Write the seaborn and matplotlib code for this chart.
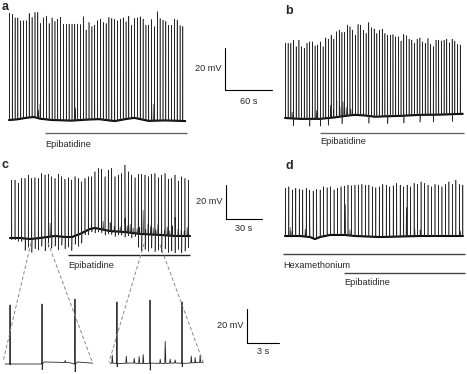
import numpy as np
import matplotlib.pyplot as plt
import seaborn as sns
from matplotlib.patches import ConnectionPatch

# time in s, potential in mV (0 = resting level of each panel)

# ---- panel a ----
a_base_t = [0, 10, 25, 32, 40, 55, 80, 100, 115, 135, 150, 160, 168, 178, 200, 225]
a_base_v = [0, 0.3, 1.2, 1.4, 0.6, 0.0, -0.3, 0.2, 0.4, -0.5, 0.5, 1.0, 0.4, -0.4, -0.2, -0.5]
a_spk_t = [0.5, 4.2, 7.8, 11.3, 15.0, 18.6, 22.3, 25.8, 29.5, 33.2,
           36.8, 40.4, 44.1, 47.8, 51.3, 55.0, 58.7, 62.2, 65.9, 69.6,
           73.2, 76.8, 80.5, 84.0, 87.7, 91.4, 95.0, 98.5, 102.2, 105.9,
           109.5, 113.2, 116.7, 120.4, 124.1, 127.6, 131.3, 135.0, 138.6, 142.2,
           145.9, 149.5, 153.0, 156.7, 160.4, 164.0, 167.6, 171.3, 174.9, 178.4,
           182.1, 185.8, 189.4, 193.0, 196.7, 200.3, 203.9, 207.6, 211.2, 214.8,
           218.5, 222.0]
a_spk_v = [50.8, 50.3, 48.7, 48.7, 47.3, 47.3, 47.3, 50.8, 48.9, 51.3,
           51.3, 46.0, 48.7, 49.5, 46.0, 48.7, 47.0, 48.1, 49.0, 45.7,
           45.7, 45.7, 45.7, 45.7, 45.7, 45.5, 49.2, 42.9, 46.5, 44.5,
           45.2, 47.3, 48.1, 46.5, 46.0, 48.9, 48.4, 48.1, 47.3, 48.1,
           48.7, 46.8, 49.5, 45.2, 48.4, 48.7, 49.2, 48.1, 45.2, 45.2,
           47.9, 44.5, 51.6, 48.4, 47.6, 47.0, 45.2, 45.2, 48.1, 47.6,
           45.0, 44.6]
a_spk_u = [0] * 62
a_evt_t = [37.5, 39.6, 84.6, 184.0]
a_evt_v = [4, 7, 6, 8]
a_drug = (46, 227)

# ---- panel b ----
b_base_t = [0, 19, 45, 64, 77, 89, 102, 115, 128, 147, 172, 198, 227]
b_base_v = [0, -0.4, -0.4, 0.3, 1.0, 1.5, 1.2, 0.6, 0.8, 1.0, 1.5, 1.6, 2.0]
b_spk_t = [0.6, 4.0, 7.5, 10.9, 14.3, 17.8, 21.2, 24.6, 28.1, 31.5,
           34.9, 38.4, 41.8, 45.2, 48.7, 52.1, 55.5, 59.0, 62.4, 65.8,
           69.3, 72.7, 76.1, 79.6, 83.0, 86.4, 89.9, 93.3, 96.7, 100.2,
           103.6, 107.0, 110.5, 113.9, 117.3, 120.8, 124.2, 127.6, 131.1, 134.5,
           137.9, 141.4, 144.8, 148.2, 151.7, 155.1, 158.5, 162.0, 165.4, 168.8,
           172.3, 175.7, 179.1, 182.6, 186.0, 189.4, 192.9, 196.3, 199.7, 203.2,
           206.6, 210.0, 213.5, 216.9, 220.3, 223.8]
b_spk_v = [35.6, 35.6, 35.6, 37.1, 34.0, 37.1, 34.0, 33.2, 35.6, 36.3,
           36.3, 34.4, 34.8, 36.3, 34.0, 38.2, 37.6, 39.5, 37.6, 41.1,
           41.9, 40.8, 40.8, 44.3, 43.5, 41.9, 39.5, 44.6, 44.3, 41.9,
           40.3, 45.5, 43.0, 42.4, 40.3, 41.9, 42.4, 40.3, 39.5, 39.5,
           39.8, 38.7, 38.7, 36.7, 39.8, 39.2, 37.6, 37.1, 35.6, 37.6,
           38.2, 36.3, 35.6, 37.9, 35.1, 34.0, 37.1, 37.1, 36.7, 37.1,
           37.6, 35.9, 37.6, 36.7, 35.1, 34.8]
b_spk_u = [0, 0, 0, 3.5, 0, 0, 0, 0, 0, 3.5,
           0, 0, 0, 3.5, 0, 0, 3.5, 0, 0, 0,
           0, 3.5, 0, 0, 0, 0, 0, 0, 0, 0,
           0, 3.5, 0, 0, 0, 0, 0, 0, 3.5, 0,
           0, 0, 0, 0, 3.5, 0, 0, 0, 0, 0,
           3.5, 0, 0, 0, 0, 3.5, 0, 0, 0, 0,
           0, 0, 3.5, 0, 0, 0]
b_evt_t = [9, 40, 58, 62, 66, 70, 74, 78, 84, 100]
b_evt_v = [3, 4, 6, 4, 8, 5, 7, 4, 3, 3]
b_drug = (44.7, 228.5)

# ---- panel c ----
c_base_t = [0, 8.3, 16.7, 25, 37.5, 45.8, 51.7, 58.3, 66.7, 70.8, 75, 83.3, 95.8, 108.3, 125, 137.5, 150]
c_base_v = [0, 0, -0.6, 0, 1.2, 0.6, 0.6, 2.4, 5.3, 5.9, 5.3, 4.1, 3.5, 2.4, 1.8, 1.2, 1.2]
c_spk_t = [1.4, 4.2, 7.0, 9.7, 12.5, 15.3, 18.1, 20.8, 23.6, 26.4,
           29.2, 32.0, 34.7, 37.5, 40.3, 43.1, 45.8, 48.6, 51.4, 54.2,
           56.9, 59.7, 62.5, 65.3, 68.1, 70.8, 73.6, 76.4, 79.2, 81.9,
           84.7, 87.5, 90.3, 93.0, 95.8, 98.6, 101.4, 104.2, 106.9, 109.7,
           112.5, 115.3, 118.0, 120.8, 123.6, 126.4, 129.2, 131.9, 134.7, 137.5,
           140.3, 143.0, 145.8, 148.6]
c_spk_v = [34.1, 34.1, 32.2, 35.1, 35.1, 37.1, 35.1, 35.5, 35.1, 38.0,
           37.1, 37.5, 36.1, 35.1, 37.5, 36.1, 34.7, 35.5, 34.1, 36.1,
           35.1, 33.1, 35.1, 36.1, 36.1, 39.0, 41.0, 40.6, 36.1, 40.0,
           41.0, 36.1, 37.1, 38.0, 42.9, 39.0, 37.1, 35.5, 37.5, 37.5,
           37.1, 36.1, 37.5, 38.0, 35.5, 37.1, 38.0, 34.7, 35.1, 37.1,
           33.5, 36.1, 35.1, 34.1]
c_spk_u = [1, 1, 2, 2, 7, 5, 8, 6, 7, 5,
           8, 6, 7, 6, 8, 5, 7, 6, 8, 5,
           7, 6, 2, 3, 2, 3, 2, 2, 3, 2,
           2, 3, 2, 2, 3, 2, 3, 2, 8, 10,
           9, 10, 8, 10, 9, 10, 8, 10, 9, 10,
           8, 10, 9, 7]
c_evt_t = [33.3, 77.5, 83.3, 86.7, 91.7, 95.8, 97.5, 100, 102.5, 105.8, 108, 110.8, 113,
           115, 117, 119.2, 121.5, 123.3, 126, 128.5, 130.8, 133, 135, 137.5, 140, 142.5,
           145, 147.5]
c_evt_v = [8, 5, 5, 3, 3, 8, 4, 5, 3, 3, 4, 14, 3,
           6, 5, 4, 3, 6, 4, 3, 5, 3, 6, 11, 4, 4,
           3, 5]
c_drug = (48.3, 150)
c_zoom_left = (17.5, 31.7)
c_zoom_right = (111.7, 125)

# ---- panel c, expanded sections ----
li_base_t = [0, 0.5, 3.4, 3.7, 5.0, 6.0, 6.5, 6.8, 7.5, 8.2]
li_base_v = [0, 0, 0, 1.2, 1.0, 0.8, 0, 1.2, 0.8, 0.5]
li_spk_t = [0.47, 3.46, 6.54]
li_spk_v = [34.7, 35.3, 38.2]
li_spk_u = [0.5, 3.5, 4.7]
li_evt_t = [5.6]
li_evt_v = [1.2]

ri_base_t = [0, 1, 2, 3, 4, 5, 6, 7, 8, 8.7]
ri_base_v = [0.5, 0.3, 0.6, 0.2, 0.5, 0.3, 0.6, 0.4, 0.8, 1.0]
ri_spk_t = [0.65, 3.74, 6.73]
ri_spk_v = [36.5, 37.6, 36.5]
ri_spk_u = [2, 4, 2]
ri_evt_t = [0.19, 1.5, 2.24, 2.7, 3.08, 4.67, 5.14, 5.6, 6.07, 7.57, 7.94, 8.4]
ri_evt_v = [4.7, 4.1, 2.9, 4.1, 5.3, 2.4, 13, 2.4, 1.8, 4.1, 3, 4.1]

# ---- panel d ----
d_base_t = [0, 12.5, 20.8, 25, 29.2, 37.5, 50, 58.3, 79.2, 112.5, 148.3]
d_base_v = [0, 0, -0.6, -1.8, -0.6, 0.6, 0.6, 0, -0.6, 0, 0]
d_spk_t = [0.3, 3.2, 6.1, 9.0, 11.9, 14.8, 17.7, 20.6, 23.5, 26.4,
           29.3, 32.2, 35.1, 38.0, 40.9, 43.8, 46.7, 49.6, 52.5, 55.4,
           58.3, 61.2, 64.1, 67.0, 69.9, 72.8, 75.7, 78.6, 81.5, 84.4,
           87.3, 90.2, 93.1, 96.0, 98.9, 101.8, 104.7, 107.6, 110.5, 113.4,
           116.3, 119.2, 122.1, 125.0, 127.9, 130.8, 133.7, 136.6, 139.5, 142.4,
           145.3, 148.2]
d_spk_v = [28.1, 29.0, 27.1, 28.1, 27.6, 27.1, 28.1, 27.1, 26.5, 27.4,
           27.1, 29.0, 28.4, 29.0, 27.1, 28.1, 29.0, 29.4, 30.0, 29.6,
           30.0, 30.0, 30.4, 30.0, 30.0, 29.0, 28.4, 29.0, 30.4, 30.0,
           29.0, 29.6, 31.0, 30.0, 29.0, 30.0, 29.0, 31.0, 30.4, 31.9,
           31.0, 30.0, 29.0, 30.4, 30.0, 29.0, 30.4, 31.9, 30.4, 32.9,
           30.4, 30.0]
d_spk_u = [0] * 52
d_evt_t = [4.2, 5.8, 16.7, 49.9, 54, 101, 108, 112.5, 146]
d_evt_v = [5, 3, 4.5, 18, 3.5, 17, 4.5, 3.5, 3]
d_hexa = (-1.7, 150)
d_drug = (49.2, 150)

sns.set_style('white')
plt.rcParams['font.family'] = ['Liberation Sans', 'DejaVu Sans']
FS = 6.6
TRACE = '#262626'

W, H = 467, 374
fig = plt.figure(figsize=(W / 100, H / 100), dpi=100)


def make_axes(box, t0, v0, sx, sy):
    # box = figure pixels (left, top, right, bottom); t0/v0 = pixel of 0 s / 0 mV
    l, t, r, b = box
    ax = fig.add_axes([l / W, 1 - b / H, (r - l) / W, (b - t) / H])
    ax.set_xlim((l - t0) / sx, (r - t0) / sx)
    ax.set_ylim((v0 - b) / sy, (v0 - t) / sy)
    ax.axis('off')
    return ax


def build_trace(base_t, base_v, spk_t, spk_v, spk_u, evt_t, evt_v, w):
    pts = list(zip(base_t, base_v))
    for t, p, u in zip(spk_t, spk_v, spk_u):
        b = np.interp(t, base_t, base_v)
        pts += [(t - w, b), (t, p), (t + w, b - u), (t + 3 * w, b)]
    for t, a in zip(evt_t, evt_v):
        b = np.interp(t, base_t, base_v)
        pts += [(t - w, b), (t + w, b + a), (t + 4 * w, b)]
    pts.sort()
    return np.array(pts).T


def draw_trace(ax, base_t, base_v, spk_t, spk_v, spk_u, evt_t, evt_v, w, lw=0.42, base_lw=1.5):
    if base_lw:
        sns.lineplot(x=base_t, y=base_v, ax=ax, color='k', lw=base_lw, estimator=None, sort=False)
    tt, vv = build_trace(base_t, base_v, spk_t, spk_v, spk_u, evt_t, evt_v, w)
    sns.lineplot(x=tt, y=vv, ax=ax, color=TRACE, lw=lw, estimator=None, sort=False)


def drug_bar(ax, span, y, label, ty, color='#555555'):
    ax.plot(span, [y, y], color=color, lw=1.0, solid_capstyle='butt')
    ax.text(span[0], ty, label, fontsize=FS, ha='left', va='center')


def scale_bar(ax, t, v, dt, dv, tlabel, vlabel, tx_off, ty_off):
    ax.plot([t, t, t + dt], [v + dv, v, v], color='k', lw=0.8)
    ax.text(t - tx_off, v + dv / 2, vlabel, fontsize=FS, ha='right', va='center')
    ax.text(t + dt / 2, v - ty_off, tlabel, fontsize=FS, ha='center', va='center')


ax_a = make_axes((0, 0, 290, 158), 9, 120, 0.783, 2.1)
ax_b = make_axes((280, 0, 467, 158), 285, 118, 0.783, 2.1)
ax_c = make_axes((0, 160, 285, 280), 10, 238, 1.2, 1.7)
ax_d = make_axes((280, 160, 467, 292), 285, 236, 1.2, 1.7)
ax_li = make_axes((0, 290, 105, 374), 5, 364, 10.7, 1.7)
ax_ri = make_axes((105, 290, 300, 374), 110, 364, 10.7, 1.7)

# a
draw_trace(ax_a, a_base_t, a_base_v, a_spk_t, a_spk_v, a_spk_u, a_evt_t, a_evt_v, 0.15)
drug_bar(ax_a, a_drug, -6.2, 'Epibatidine', -11.9, color='#666666')
scale_bar(ax_a, 275.9, 14.3, 60, 20, '60 s', '20 mV', 4, 5.3)

# b
draw_trace(ax_b, b_base_t, b_base_v, b_spk_t, b_spk_v, b_spk_u, b_evt_t, b_evt_v, 0.15)
drug_bar(ax_b, b_drug, -7.1, 'Epibatidine', -11.4, color='#666666')

# c
draw_trace(ax_c, c_base_t, c_base_v, c_spk_t, c_spk_v, c_spk_u, c_evt_t, c_evt_v, 0.12)
drug_bar(ax_c, c_drug, -10, 'Epibatidine', -15.9, color='#222222')
scale_bar(ax_c, 180, 11.2, 30, 20, '30 s', '20 mV', 2.5, 5.9)

# d
draw_trace(ax_d, d_base_t, d_base_v, d_spk_t, d_spk_v, d_spk_u, d_evt_t, d_evt_v, 0.12)
drug_bar(ax_d, d_hexa, -10.6, 'Hexamethonium', -17.1, color='#444444')
drug_bar(ax_d, d_drug, -21.8, 'Epibatidine', -27.6, color='#444444')

# expanded sections of c
draw_trace(ax_li, li_base_t, li_base_v, li_spk_t, li_spk_v, li_spk_u, li_evt_t, li_evt_v,
           0.02, lw=0.6, base_lw=0)
draw_trace(ax_ri, ri_base_t, ri_base_v, ri_spk_t, ri_spk_v, ri_spk_u, ri_evt_t, ri_evt_v,
           0.02, lw=0.6, base_lw=0)
scale_bar(ax_ri, 12.8, 12.4, 3, 20, '3 s', '20 mV', 0.3, 5.3)

# dashed lines from the main trace to the expanded sections
for (tA, vA), ax_B, (tB, vB) in [((c_zoom_left[0], -2.9), ax_li, (li_base_t[0] - 0.19, 1.2)),
                                 ((c_zoom_left[1], -2.9), ax_li, (li_base_t[-1], 0.5)),
                                 ((c_zoom_right[0], -3.5), ax_ri, (ri_base_t[0] - 0.09, 1.2)),
                                 ((c_zoom_right[1], -4.1), ax_ri, (ri_base_t[-1], 1.2))]:
    con = ConnectionPatch(xyA=(tA, vA), coordsA=ax_c.transData, xyB=(tB, vB),
                          coordsB=ax_B.transData, color='#888888', lw=0.7, ls=(0, (3, 3)))
    fig.add_artist(con)

for lab, x, y in [('a', 5, 7), ('b', 289, 11), ('c', 5, 165), ('d', 289, 166)]:
    fig.text(x / W, 1 - y / H, lab, fontsize=9, fontweight='bold', ha='center', va='center')

fig.savefig('out.png', dpi=100)
